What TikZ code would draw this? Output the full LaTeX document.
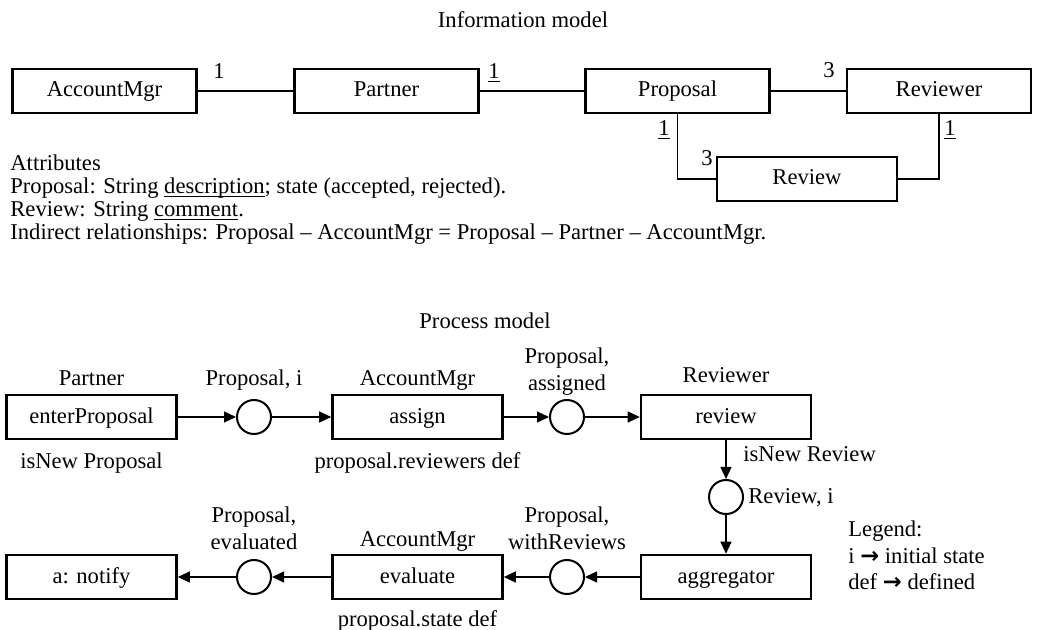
\documentclass[tikz,border=0pt]{standalone}
\usepackage{fontspec}
\setmainfont{Liberation Serif}
\newfontfamily\arrowfont{DejaVu Sans}
\usetikzlibrary{arrows.meta,positioning}

\def\taskw{85pt}
\def\ra{{\arrowfont\bfseries →}}
\def\uln#1{\underline{\smash{#1}}}

\begin{document}
\begin{tikzpicture}[x=0.5pt,y=-0.5pt,font=\fontsize{11.3}{13.5}\selectfont,
        >={Triangle[length=6pt,width=5.5pt]}]
        \tikzstyle{entity}=[draw,line width=1.3pt,minimum width=92pt,minimum height=22pt,inner sep=0pt,
            text height=7pt,text depth=1pt]
        \tikzstyle{task}=[entity,minimum width=\taskw]
        \tikzstyle{place}=[draw,circle,line width=1pt,minimum size=17pt,inner sep=0pt]
        \tikzstyle{flow}=[->,line width=0.6pt]
        \tikzstyle{assoc}=[line width=0.6pt]
        \tikzstyle{annot}=[inner sep=0pt,text height=7pt,text depth=1pt]
        \tikzstyle{annot2}=[align=center,inner sep=0pt]
        \tikzstyle{note}=[annot,anchor=west]

        \useasboundingbox (0,0) rectangle (1044,630);

        % Information model
        \node[annot] (info) at (523,22) {Information model};
        \node[entity] (AM) at (104.5,91) {AccountMgr};
        \node[entity] (PA) at (386.5,91) {Partner};
        \node[entity] (PR) at (677.5,91) {Proposal};
        \node[entity] (RV) at (939,91) {Reviewer};
        \node[entity,minimum width=90pt] (RW) at (807,179) {Review};

        \draw[assoc] (AM) -- (PA);
        \draw[assoc] (PA) -- (PR);
        \draw[assoc] (PR) -- (RV);
        \draw[assoc] (PR.south) |- (RW.west);
        \draw[assoc] (RV.south) |- (RW.east);

        % Multiplicities
        \node[annot] (m-am) at (219,73) {1};
        \node[annot] (m-pa) at (494,73) {\uln{1}};
        \node[annot] (m-rv) at (829,72) {3};
        \node[annot] (m-pr) at (664,130) {\uln{1}};
        \node[annot] (m-rw) at (707,160) {3};
        \node[annot] (m-rr) at (950,130) {\uln{1}};

        % Attributes
        \node[note] (attr-1) at (10,165) {Attributes};
        \node[note] (attr-2) at (10,188) {Proposal: String \uln{description}; state (accepted, rejected).};
        \node[note] (attr-3) at (10,211) {Review: String \uln{comment}.};
        \node[note] (attr-4) at (10,234) {Indirect relationships: Proposal -- AccountMgr = Proposal -- Partner -- AccountMgr.};

        % Process model
        \node[annot] (proc) at (485,323) {Process model};

        % Draw the first row
        \node[task] (enter) at (91.5,417) {enterProposal};
        \node[place] (p1) at (254,417) {};
        \node[task] (assign) at (417.5,417) {assign};
        \node[place] (p2) at (567,417) {};
        \node[task] (review) at (726,417) {review};
        \node[place] (p3) at (726,497) {};

        % Draw the second row
        \node[task] (aggr) at (726,577) {aggregator};
        \node[place] (p4) at (567,577) {};
        \node[task] (eval) at (417.5,577) {evaluate};
        \node[place] (p5) at (254,577) {};
        \node[task] (notify) at (91.5,577) {a: notify};

        % Connect the tasks through the places
        \foreach \source/\dest in {enter/p1,p1/assign,assign/p2,p2/review,review/p3,p3/aggr,aggr/p4,p4/eval,eval/p5,p5/notify}
            \draw[flow] (\source) -- (\dest);

        % Annotate the tasks and places
        \node[annot] (l-partner) at (91.5,380) {Partner};
        \node[annot] (l-p1) at (254,380) {Proposal, i};
        \node[annot] (l-am1) at (417.5,380) {AccountMgr};
        \node[annot2] (l-p2) at (567,372) {Proposal,\\assigned};
        \node[annot] (l-rv) at (726,377) {Reviewer};
        \node[annot] (c-enter) at (91.5,462) {isNew Proposal};
        \node[annot] (c-assign) at (417.5,462) {proposal.reviewers def};
        \node[note] (c-review) at (743,455) {isNew Review};
        \node[note] (l-p3) at (748,497) {Review, i};
        \node[annot2] (l-p5) at (254,528) {Proposal,\\evaluated};
        \node[annot] (l-am2) at (417.5,540) {AccountMgr};
        \node[annot2] (l-p4) at (567,528) {Proposal,\\withReviews};
        \node[annot] (c-eval) at (417.5,620) {proposal.state def};

        % Legend
        \node[note] (leg-1) at (848,530) {Legend:};
        \node[note] (leg-2) at (848,557) {i \ra{} initial state};
        \node[note] (leg-3) at (848,583) {def \ra{} defined};
\end{tikzpicture}
\end{document}
